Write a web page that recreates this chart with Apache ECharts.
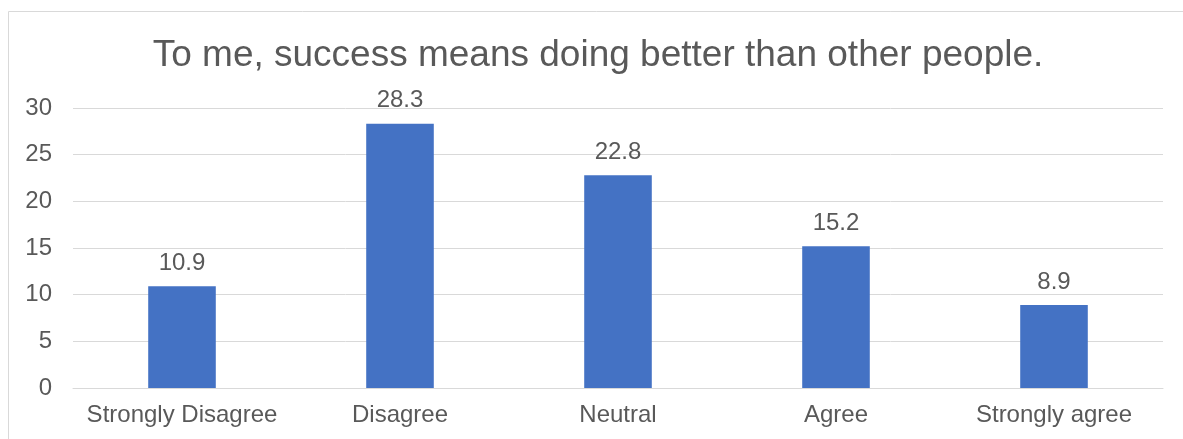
<!DOCTYPE html>
<html>
<head>
<meta charset="utf-8">
<script src="https://cdn.jsdelivr.net/npm/echarts@6/dist/echarts.min.js"></script>
<style>
  html, body { margin: 0; padding: 0; background: #fff; }
  #chart { width: 1183px; height: 439px; }
</style>
</head>
<body>
<div id="chart"></div>
<script>
// Survey responses (percent) for each agreement level
const categories = ['Strongly Disagree', 'Disagree', 'Neutral', 'Agree', 'Strongly agree'];
const percentages = [10.9, 28.3, 22.8, 15.2, 8.9];
const yTicks = { min: 0, max: 30, interval: 5 };
const titleText = 'To me, success means doing better than other people.';

const textColor = '#595959';
const gridColor = '#d9d9d9';
const fontFamily = '"Liberation Sans", Arial, sans-serif';

const chart = echarts.init(document.getElementById('chart'), null, { renderer: 'canvas' });
chart.setOption({
  animation: false,
  textStyle: { fontFamily },
  title: {
    text: titleText,
    left: 593,
    top: 32,
    textAlign: 'center',
    textStyle: { color: textColor, fontSize: 37, fontWeight: 'normal', fontFamily }
  },
  graphic: [{
    type: 'rect',
    shape: { x: 8.5, y: 11.5, width: 1300, height: 600 },
    style: { fill: 'none', stroke: gridColor, lineWidth: 1 },
    silent: true,
    z: -1
  }],
  grid: { left: 73, right: 20, top: 108, bottom: 51, containLabel: false },
  xAxis: {
    type: 'category',
    data: categories,
    axisLine: { show: true, lineStyle: { color: gridColor, width: 1 } },
    axisTick: { show: false },
    axisLabel: { color: textColor, fontSize: 24, margin: 15, fontFamily, interval: 0 }
  },
  yAxis: {
    type: 'value',
    min: yTicks.min,
    max: yTicks.max,
    interval: yTicks.interval,
    axisLine: { show: false },
    axisTick: { show: false },
    axisLabel: { color: textColor, fontSize: 24, margin: 21, fontFamily },
    splitLine: { lineStyle: { color: gridColor, width: 1 } }
  },
  series: [{
    type: 'bar',
    data: percentages,
    barWidth: '31%',
    itemStyle: { color: '#4472C4' },
    label: {
      show: true,
      position: 'top',
      distance: 11,
      color: textColor,
      fontSize: 24,
      fontFamily
    }
  }]
});
</script>
</body>
</html>
